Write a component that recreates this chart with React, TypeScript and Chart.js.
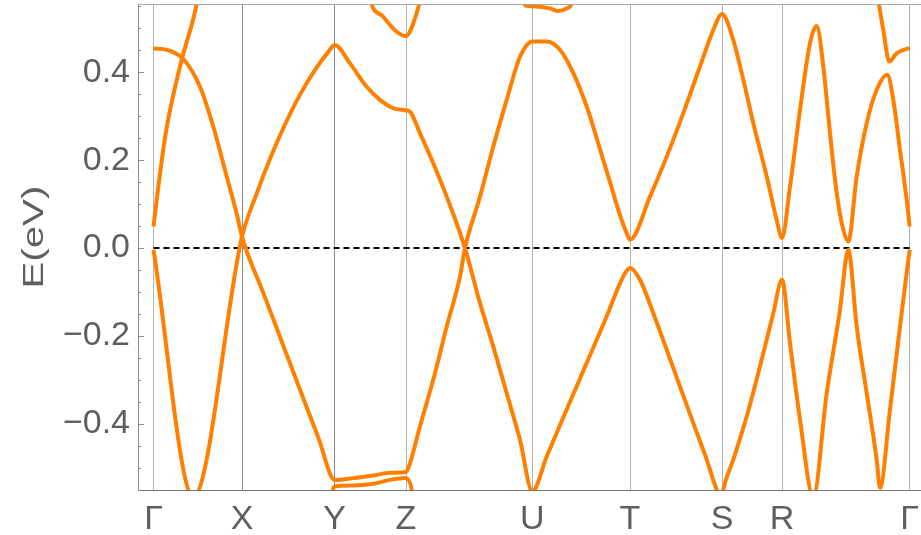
import React, { useEffect, useRef } from "react";
import { Chart, registerables } from "chart.js";

Chart.register(...registerables);

// High-symmetry k-points along the path (cumulative k distance)
const kPts = [0, 0.885, 1.812, 2.525, 3.788, 4.765, 5.685, 6.285, 7.562];
const kLabels = ["Γ", "X", "Y", "Z", "U", "T", "S", "R", "Γ"];
const yTicks = [-0.4, -0.2, 0, 0.2, 0.4];
const yTitle = "E(eV)";
const yMin = -0.55;
const yMax = 0.555;
const xMin = -0.155;
const xMax = 7.675;

// Bands: [k, E(eV)]
const band1: [number, number][] = [
  [0, 0.049], [0.032, 0.11], [0.122, 0.261], [0.265, 0.413], [0.432, 0.555], [0.465, 0.6],
];

const band2: [number, number][] = [
  [0, 0.454], [0.132, 0.451], [0.298, 0.43], [0.465, 0.367], [0.598, 0.276], [0.732, 0.163],
  [0.832, 0.078], [0.885, 0.026], [1.1, -0.103], [1.3, -0.223], [1.465, -0.322],
  [1.65, -0.432], [1.812, -0.527], [1.998, -0.523],
  [2.198, -0.517], [2.365, -0.511], [2.525, -0.509], [2.565, -0.489], [2.665, -0.405],
  [2.798, -0.299], [2.932, -0.178], [3.065, -0.065], [3.115, 0.0], [3.265, 0.117],
  [3.398, 0.231], [3.532, 0.337], [3.665, 0.435], [3.788, 0.47], [3.932, 0.47],
  [4.065, 0.451], [4.198, 0.398], [4.332, 0.322], [4.465, 0.225], [4.565, 0.15],
  [4.665, 0.075], [4.73, 0.035], [4.765, 0.019], [4.965, 0.117], [5.132, 0.208], [5.298, 0.307],
  [5.465, 0.413], [5.598, 0.496], [5.685, 0.532], [5.798, 0.473], [5.898, 0.383],
  [5.998, 0.284], [6.132, 0.163], [6.232, 0.064], [6.285, 0.023], [6.365, 0.14],
  [6.465, 0.314], [6.565, 0.466], [6.632, 0.505], [6.698, 0.413], [6.765, 0.261],
  [6.832, 0.125], [6.898, 0.042], [6.948, 0.015], [7.032, 0.163], [7.132, 0.284],
  [7.232, 0.36], [7.338, 0.394], [7.398, 0.337], [7.465, 0.223], [7.532, 0.11], [7.562, 0.049],
];

const band3: [number, number][] = [
  [0, -0.004], [0.398, -0.565], [0.885, 0.026], [1.032, 0.124], [1.165, 0.203], [1.315, 0.281],
  [1.465, 0.349], [1.632, 0.411], [1.745, 0.445], [1.812, 0.462], [1.965, 0.42],
  [2.132, 0.367], [2.265, 0.337], [2.398, 0.318], [2.525, 0.313], [2.565, 0.31],
  [2.665, 0.261], [2.798, 0.193], [2.932, 0.117], [3.115, 0.0], [3.265, -0.125],
  [3.398, -0.224], [3.532, -0.33], [3.665, -0.436], [3.788, -0.553], [3.932, -0.474],
  [4.132, -0.367], [4.332, -0.261], [4.532, -0.155], [4.665, -0.08], [4.72, -0.055],
  [4.765, -0.045], [4.865, -0.072], [4.998, -0.148], [5.132, -0.231], [5.265, -0.315],
  [5.398, -0.398], [5.532, -0.481], [5.632, -0.549], [5.685, -0.568], [5.698, -0.549],
  [5.798, -0.481], [5.932, -0.383], [6.065, -0.269], [6.198, -0.148], [6.285, -0.072],
  [6.365, -0.216], [6.465, -0.39], [6.598, -0.565], [6.732, -0.33], [6.865, -0.14],
  [6.948, -0.004], [7.032, -0.178], [7.132, -0.33], [7.232, -0.481], [7.265, -0.545],
  [7.365, -0.367], [7.465, -0.178], [7.548, -0.027], [7.562, -0.004],
];

const band4: [number, number][] = [
  [1.77, -0.6], [1.792, -0.552], [1.812, -0.542], [1.998, -0.54], [2.198, -0.536],
  [2.365, -0.527], [2.525, -0.523], [2.582, -0.549], [2.61, -0.6],
];

const band5: [number, number][] = [
  [2.13, 0.61], [2.165, 0.564], [2.298, 0.526], [2.432, 0.492], [2.525, 0.482],
  [2.598, 0.511], [2.665, 0.564], [2.69, 0.6],
];

const band6: [number, number][] = [
  [3.69, 0.57], [3.715, 0.552], [3.795, 0.55], [3.965, 0.545], [4.045, 0.539],
  [4.13, 0.545], [4.18, 0.555], [4.2, 0.575],
];

const band7: [number, number][] = [
  [7.22, 0.61], [7.248, 0.564], [7.298, 0.496], [7.358, 0.424], [7.432, 0.443], [7.562, 0.455],
];

const bands = [band1, band2, band3, band4, band5, band6, band7];

const BAND_COLOR = "#ff8000";
const TEXT_COLOR = "#5f5f5f";
const FONT = "'Liberation Sans', Arial, sans-serif";

const framePlugin = {
  id: "frameAndMinorTicks",
  afterDraw(chart: any) {
    const { ctx, chartArea } = chart;
    const ys = chart.scales.y;
    ctx.save();
    ctx.strokeStyle = "#a8a8a8";
    ctx.lineWidth = 1;
    ctx.beginPath();
    ctx.moveTo(chartArea.left, chartArea.top + 0.5);
    ctx.lineTo(chartArea.right, chartArea.top + 0.5);
    ctx.stroke();
    ctx.strokeStyle = "#888";
    for (let i = -11; i <= 11; i++) {
      const v = i * 0.05;
      if (v < yMin - 1e-9 || v > yMax + 1e-9) continue;
      const y = Math.round(ys.getPixelForValue(v)) + 0.5;
      const major = i % 4 === 0;
      ctx.beginPath();
      ctx.moveTo(chartArea.left, y);
      ctx.lineTo(chartArea.left + (major ? 6 : 3), y);
      ctx.stroke();
    }
    // y-axis title (stretched along its direction like the reference)
    const cy = (ys.getPixelForValue(0) + ys.getPixelForValue(0.05)) / 2;
    ctx.translate(43, cy);
    ctx.rotate(-Math.PI / 2);
    ctx.scale(1.34, 1);
    ctx.fillStyle = TEXT_COLOR;
    ctx.font = `30px ${FONT}`;
    ctx.textAlign = "center";
    ctx.textBaseline = "alphabetic";
    ctx.fillText(yTitle, 0, 0);
    ctx.restore();
  },
};

export default function App() {
  const ref = useRef<HTMLCanvasElement>(null);
  useEffect(() => {
    if (!ref.current) return;
    const datasets: any[] = bands.map((b) => ({
      data: b.map(([x, y]) => ({ x, y })),
      borderColor: BAND_COLOR,
      borderWidth: 4,
      pointRadius: 0,
      fill: false,
      cubicInterpolationMode: "monotone",
      clip: 0,
    }));
    datasets.push({
      data: [
        { x: kPts[0], y: 0 },
        { x: kPts[kPts.length - 1], y: 0 },
      ],
      borderColor: "#000",
      borderWidth: 2,
      borderDash: [6, 4],
      pointRadius: 0,
      fill: false,
      clip: 0,
    });
    const chart = new Chart(ref.current, {
      type: "line",
      data: { datasets },
      plugins: [framePlugin],
      options: {
        animation: false,
        responsive: true,
        maintainAspectRatio: false,
        layout: { autoPadding: false, padding: { top: 4, right: 0, left: 0, bottom: 0 } },
        plugins: { legend: { display: false }, tooltip: { enabled: false } },
        scales: {
          x: {
            type: "linear",
            min: xMin,
            max: xMax,
            afterBuildTicks: (scale: any) => {
              scale.ticks = kPts.map((v) => ({ value: v }));
            },
            afterFit: (scale: any) => {
              scale.height = 45;
              scale.paddingLeft = 0;
              scale.paddingRight = 0;
            },
            ticks: {
              autoSkip: false,
              maxRotation: 0,
              padding: 9,
              color: TEXT_COLOR,
              font: { family: FONT, size: 34 },
              callback: (_v: any, i: number) => kLabels[i],
            },
            grid: {
              drawTicks: false,
              color: (c: any) => (c.index === 1 || c.index === 2 ? "#8a8a8a" : "#b4b4b4"),
              lineWidth: 1,
            },
            border: { display: true, color: "#777", width: 1 },
          },
          y: {
            type: "linear",
            min: yMin,
            max: yMax,
            afterBuildTicks: (scale: any) => {
              scale.ticks = yTicks.map((v) => ({ value: v }));
            },
            afterFit: (scale: any) => {
              scale.width = 138;
              scale.paddingTop = 0;
              scale.paddingBottom = 0;
            },
            ticks: {
              padding: 8,
              color: TEXT_COLOR,
              font: { family: FONT, size: 34 },
              callback: (v: any) => {
                const n = Number(v);
                const s = Math.abs(n).toFixed(1);
                return n < -1e-9 ? "\u2212" + s : s;
              },
            },
            grid: { display: false, drawTicks: false },
            border: { display: true, color: "#888", width: 1 },
          },
        },
      },
    });
    return () => chart.destroy();
  }, []);
  return (
    <div style={{ position: "fixed", left: 0, top: 0, width: 921, height: 535, background: "#fff" }}>
      <canvas ref={ref} />
    </div>
  );
}
